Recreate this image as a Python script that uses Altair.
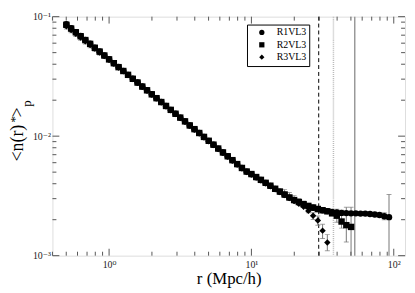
import altair as alt
import pandas as pd

series_names = ["R1VL3", "R2VL3", "R3VL3"]

r_bins = [0.501, 0.541, 0.584, 0.631, 0.681, 0.736, 0.794, 0.858, 0.926,
          1.000, 1.080, 1.166, 1.259, 1.359, 1.468, 1.585, 1.711, 1.848, 1.995,
          2.154, 2.326, 2.512, 2.712, 2.929, 3.162, 3.415, 3.687, 3.981, 4.299,
          4.642, 5.012, 5.412, 5.843, 6.310, 6.813, 7.356, 7.943, 8.577, 9.261,
          10.00, 10.80, 11.66, 12.59, 13.59, 14.68, 15.85, 17.11, 18.48, 19.95,
          21.54, 23.26, 25.12, 27.12, 29.29, 31.62, 34.15, 36.87, 39.81, 42.99,
          46.42, 50.12, 54.12, 58.43, 63.10, 68.13, 73.56, 79.43, 85.77, 92.61]

r1vl3 = [0.0863, 0.0801, 0.0743, 0.0690, 0.0640, 0.0594, 0.0551, 0.0511, 0.0474,
         0.0440, 0.0408, 0.0379, 0.0352, 0.0326, 0.0303, 0.0281, 0.0261, 0.0242,
         0.0224, 0.0208, 0.0193, 0.0179, 0.0166, 0.0154, 0.0143, 0.0133, 0.0123,
         0.01144, 0.01062, 0.00985, 0.00914, 0.00848, 0.00787, 0.00730, 0.00678,
         0.00629, 0.00583, 0.00541, 0.00505,
         0.00481, 0.00454, 0.00430, 0.00406, 0.00384, 0.00362, 0.00343, 0.00324,
         0.00306, 0.00291, 0.00280, 0.00269, 0.00260, 0.00252, 0.00245, 0.00240,
         0.00236, 0.00232, 0.00230, 0.00228, 0.00227, 0.00226, 0.00226, 0.00225,
         0.00225, 0.00223, 0.00221, 0.00219, 0.00214, 0.00210]

r2vl3 = [0.0855, 0.0795, 0.0740, 0.0686, 0.0637, 0.0592, 0.0549, 0.0510, 0.0473,
         0.0439, 0.0408, 0.0378, 0.0351, 0.0326, 0.0302, 0.0281, 0.0260, 0.0242,
         0.0224, 0.0208, 0.0193, 0.0179, 0.0166, 0.0154, 0.0143, 0.0133, 0.0123,
         0.01145, 0.01063, 0.00986, 0.00915, 0.00849, 0.00788, 0.00731, 0.00679,
         0.00630, 0.00584, 0.00542, 0.00506,
         0.00482, 0.00455, 0.00431, 0.00407, 0.00385, 0.00363, 0.00344, 0.00325,
         0.00307, 0.00292, 0.00281, 0.00270, 0.00261, 0.00253, 0.00246, 0.00240,
         0.00235, 0.00226, 0.00216, 0.00193, 0.00180, 0.00174]

r3vl3 = [0.0830, 0.0772, 0.0718, 0.0668, 0.0622, 0.0579, 0.0540, 0.0502, 0.0468,
         0.0435, 0.0405, 0.0376, 0.0349, 0.0324, 0.0301, 0.0280, 0.0259, 0.0241,
         0.0223, 0.0207, 0.0192, 0.0178, 0.0165, 0.0153, 0.0142, 0.0132, 0.0122,
         0.01137, 0.01055, 0.00979, 0.00908, 0.00843, 0.00782, 0.00726, 0.00674,
         0.00625, 0.00580, 0.00538, 0.00502,
         0.00478, 0.00451, 0.00427, 0.00403, 0.00381, 0.00359, 0.00340, 0.00321,
         0.00303, 0.00287, 0.00272, 0.00257, 0.00237, 0.00216, 0.00197, 0.00162,
         0.00129]

# visible error bars
eb_series = ["R3VL3"] * 8 + ["R3VL3"] * 6 + ["R3VL3"] * 5 + ["R2VL3"] * 4 + ["R1VL3"] * 2
eb_r = [0.501, 0.541, 0.584, 0.631, 0.681, 0.736, 0.794, 0.858,
        17.11, 18.48, 19.95, 21.54, 23.26, 25.12,
        25.12, 27.12, 29.29, 31.62, 34.15,
        39.81, 42.99, 46.42, 50.12,
        85.77, 92.61]
eb_lo = [0.0789, 0.0733, 0.0682, 0.0635, 0.0591, 0.0550, 0.0513, 0.0477,
         0.00323, 0.00305, 0.00288, 0.00273, 0.00259, 0.00245,
         0.00229, 0.00201, 0.00180, 0.00139, 0.00110,
         0.00190, 0.00170, 0.00130, 0.00094,
         0.00200, 0.00090]
eb_hi = [0.0872, 0.0811, 0.0754, 0.0701, 0.0653, 0.0608, 0.0567, 0.0527,
         0.00357, 0.00337, 0.00318, 0.00301, 0.00285, 0.00270,
         0.00245, 0.00229, 0.00215, 0.00183, 0.00150,
         0.00245, 0.00240, 0.00254, 0.00254,
         0.00229, 0.00325]

vline_r = [29.7, 37.7, 53.2]

x_major = [1, 10, 100]
x_minor = [0.4, 0.5, 0.6, 0.7, 0.8, 0.9, 2, 3, 4, 5, 6, 7, 8, 9,
           20, 30, 40, 50, 60, 70, 80, 90]
y_major = [0.001, 0.01, 0.1]
y_minor = [0.002, 0.003, 0.004, 0.005, 0.006, 0.007, 0.008, 0.009,
           0.02, 0.03, 0.04, 0.05, 0.06, 0.07, 0.08, 0.09]

W, H = 357, 242
FONT = "Liberation Serif, DejaVu Serif, serif"
FRAME = "#555555"

rows = []
for name, vals in zip(series_names, [r1vl3, r2vl3, r3vl3]):
    for r, v in zip(r_bins, vals):
        rows.append({"series": name, "r": r, "n": v})
pts = pd.DataFrame(rows)
eb = pd.DataFrame({"series": eb_series, "r": eb_r, "lo": eb_lo, "hi": eb_hi})

xs = alt.Scale(type="log", domain=[0.4, 120], nice=False)
ys = alt.Scale(type="log", domain=[0.001, 0.1], nice=False)

xaxis = alt.Axis(values=x_major,
                 labelExpr="datum.value < 5 ? '10⁰' : datum.value < 50 ? '10¹' : '10²'",
                 ticks=False, grid=False, domain=False, labelFlush=False,
                 labelFont=FONT, labelFontSize=10, labelPadding=4, labelColor="#222222",
                 title="r (Mpc/h)", titleFont=FONT, titleFontSize=17,
                 titleFontWeight="normal", titlePadding=1, titleColor="black")
yaxis = alt.Axis(values=y_major,
                 labelExpr="datum.value < 0.005 ? '10⁻³' : datum.value < 0.05 ? '10⁻²' : '10⁻¹'",
                 ticks=False, grid=False, domain=False, labelFlush=False,
                 labelFont=FONT, labelFontSize=10, labelPadding=2, labelColor="#222222",
                 title="")

def X(field):
    return alt.X(field, scale=xs, axis=xaxis)

def Y(field):
    return alt.Y(field, scale=ys, axis=yaxis)

# vertical reference lines
vl = pd.DataFrame({"r": vline_r, "k": [0, 1, 2]})
v_dashed = alt.Chart(vl).transform_filter("datum.k == 0").mark_rule(
    color="black", strokeDash=[4, 3], strokeWidth=1).encode(x=X("r:Q"))
v_dotted = alt.Chart(vl).transform_filter("datum.k == 1").mark_rule(
    color="#bbbbbb", strokeDash=[1, 1], strokeWidth=1.5).encode(x=X("r:Q"))
v_solid = alt.Chart(vl).transform_filter("datum.k == 2").mark_rule(
    color="#999999", strokeWidth=1.5).encode(x=X("r:Q"))

err = alt.Chart(eb).mark_rule(color="#777777", strokeWidth=1, clip=True).encode(
    x=X("r:Q"), y=Y("lo:Q"), y2="hi:Q")
cap_lo = alt.Chart(eb).mark_tick(color="#777777", orient="horizontal", size=5,
                                 thickness=1, clip=True).encode(x=X("r:Q"), y=Y("lo:Q"))
cap_hi = alt.Chart(eb).mark_tick(color="#777777", orient="horizontal", size=5,
                                 thickness=1, clip=True).encode(x=X("r:Q"), y=Y("hi:Q"))

points = alt.Chart(pts).mark_point(filled=True, color="black", size=42, opacity=1).encode(
    x=X("r:Q"),
    y=Y("n:Q"),
    shape=alt.Shape("series:N",
                    scale=alt.Scale(domain=series_names, range=["circle", "square", "diamond"]),
                    legend=alt.Legend(orient="none", legendX=197, legendY=8, title=None,
                                      strokeColor="black", fillColor="white", padding=3,
                                      symbolOffset=7, labelOffset=10, rowPadding=0.5,
                                      labelFont=FONT, labelFontSize=10, labelColor="black",
                                      symbolSize=28, symbolFillColor="black",
                                      symbolStrokeColor="black")),
)

xt_maj = pd.DataFrame({"v": x_major})
xt_min = pd.DataFrame({"v": x_minor})
yt_maj = pd.DataFrame({"v": y_major})
yt_min = pd.DataFrame({"v": y_minor})

def xticks(df, L):
    b = alt.Chart(df).mark_rule(color=FRAME, strokeWidth=1).encode(
        x=X("v:Q"), y=alt.value(H), y2=alt.value(H - L))
    t = alt.Chart(df).mark_rule(color=FRAME, strokeWidth=1).encode(
        x=X("v:Q"), y=alt.value(0), y2=alt.value(L))
    return [b, t]

def yticks(df, L):
    l = alt.Chart(df).mark_rule(color=FRAME, strokeWidth=1).encode(
        y=Y("v:Q"), x=alt.value(0), x2=alt.value(L))
    r = alt.Chart(df).mark_rule(color=FRAME, strokeWidth=1).encode(
        y=Y("v:Q"), x=alt.value(W - L), x2=alt.value(W))
    return [l, r]

one = pd.DataFrame({"a": [0]})
def ytext(txt, x, y, size):
    return alt.Chart(one).mark_text(text=txt, angle=270, font=FONT, fontSize=size,
                                    align="center", baseline="middle", color="black").encode(
        x=alt.value(x), y=alt.value(y))

title_parts = [ytext("<n(r)", -35, 128, 18), ytext("*", -38, 104, 13),
               ytext(">", -35, 97, 18), ytext("p", -26, 88, 13)]

layers = [v_dashed, v_dotted, v_solid, err, cap_lo, cap_hi, points]
layers += xticks(xt_maj, 7) + xticks(xt_min, 4) + yticks(yt_maj, 7) + yticks(yt_min, 4)
layers += title_parts

chart = alt.layer(*layers).properties(
    width=W, height=H, autosize="none",
    padding={"left": 45, "top": 7, "right": 2, "bottom": 34},
).configure_view(stroke=FRAME, strokeWidth=1.2).configure(background="white")

chart.save("out.html", embed_options={"renderer": "svg", "actions": False})
